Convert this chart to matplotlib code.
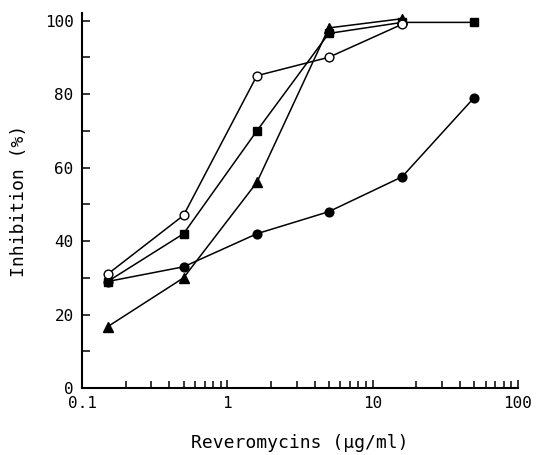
import matplotlib.pyplot as plt
from matplotlib.ticker import LogLocator, FixedLocator, NullFormatter

plt.rcParams['font.family'] = ['DejaVu Sans Mono', 'DejaVu Sans']

# concentrations (ug/ml)
conc = [0.15, 0.5, 1.6, 5, 16, 50]
conc_short = [0.15, 0.5, 1.6, 5, 16]

open_circle = [31, 47, 85, 90, 99]
square = [29, 42, 70, 96.5, 99.5, 99.5]
triangle = [16.7, 30, 56, 98, 100.5]
filled_circle = [29, 33, 42, 48, 57.5, 79]

fig = plt.figure(figsize=(5.36, 4.55), dpi=100)
ax = fig.add_axes([0.153, 0.147, 0.813, 0.824])

ax.plot(conc, filled_circle, color='black', lw=1.1, marker='o', ms=6.3, mfc='black', mec='black')
ax.plot(conc_short, triangle, color='black', lw=1.1, marker='^', ms=7.5, mfc='black', mec='black')
ax.plot(conc, square, color='black', lw=1.1, marker='s', ms=5.8, mfc='black', mec='black')
ax.plot(conc_short, open_circle, color='black', lw=1.1, marker='o', ms=6.3, mfc='white', mec='black')

ax.set_xscale('log')
ax.set_xlim(0.1, 100)
ax.set_ylim(0, 102)

ax.xaxis.set_major_locator(FixedLocator([0.1, 1, 10, 100]))
ax.set_xticklabels(['0.1', '1', '10', '100'])
ax.xaxis.set_minor_locator(LogLocator(base=10, subs=range(2, 10)))
ax.xaxis.set_minor_formatter(NullFormatter())
ax.set_yticks([0, 20, 40, 60, 80, 100])
ax.set_yticks(range(10, 100, 20), minor=True)

ax.tick_params(which='both', direction='in', width=1.1, labelsize=11.5, pad=6)
ax.tick_params(axis='x', which='major', length=6)
ax.tick_params(axis='x', which='minor', length=5)
ax.tick_params(axis='y', which='both', length=6)

for s in ['top', 'right']:
    ax.spines[s].set_visible(False)
for s in ['left', 'bottom']:
    ax.spines[s].set_linewidth(1.5)

ax.set_xlabel('Reveromycins (\u03bcg/ml)', fontsize=13, labelpad=16)
ax.set_ylabel('Inhibition (%)', fontsize=13, labelpad=12)

fig.savefig('out.png', dpi=100)
